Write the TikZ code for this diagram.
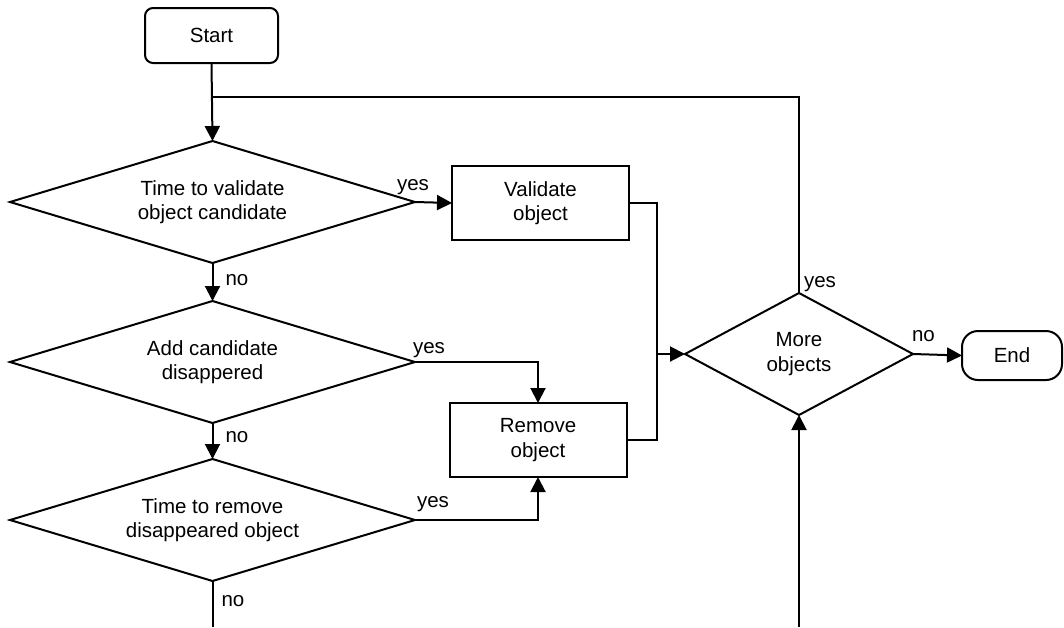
\documentclass[tikz,border=0pt]{standalone}
\usepackage{fontspec}
\setmainfont{Liberation Sans}
\usetikzlibrary{shapes.geometric,arrows.meta}
\begin{document}
\begin{tikzpicture}[x=1pt,y=-1pt,
  every node/.style={font=\fontsize{20.5}{24.5}\selectfont, inner sep=0pt, outer sep=0pt},
  box/.style={draw, line width=2pt, rectangle, minimum width=177pt, minimum height=74pt, align=center},
  term/.style={draw, line width=2pt, rectangle, align=center},
  decision/.style={draw, line width=2pt, diamond, aspect=3.3, align=center},
  conn/.style={line width=2pt},
  arr/.style={line width=2pt, -{Triangle[length=15pt,width=15pt]}},
  lbl/.style={anchor=base west}
]
\useasboundingbox (0,0) rectangle (1064,627);

\node[term, rounded corners=8pt, minimum width=133pt, minimum height=55pt] (start) at (211.5,35.5) {Start};
\node[decision, minimum width=405pt, minimum height=122pt] (d1) at (212.5,202) {Time to validate\\object candidate};
\node[decision, minimum width=405pt, minimum height=122pt] (d2) at (212.5,362) {Add candidate\\disappered};
\node[decision, minimum width=405pt, minimum height=122pt] (d3) at (212.5,520) {Time to remove\\disappeared object};
\node[box] (val) at (540.5,203) {Validate\\object};
\node[box] (rem) at (538,440) {Remove\\object};
\node[decision, minimum width=228pt, minimum height=122pt] (more) at (799,354) {More\\objects};
\node[term, rounded corners=16pt, minimum width=100pt, minimum height=49pt] (end) at (1012,355.5) {End};

\coordinate (J) at (212.5,97);
\coordinate (M) at (657,354);
\coordinate (B3) at (212.5,627);
\coordinate (B) at (799,627);

\draw[arr] (start.south) -- (d1.north);
\draw[conn] (more.north) |- (J);
\draw[arr] (d1.east) -- (val.west);
\draw[conn] (val.east) -| (M);
\draw[conn] (rem.east) -| (M);
\draw[arr] (M) -- (more.west);
\draw[arr] (d1.south) -- (d2.north);
\draw[arr] (d2.east) -| (rem.north);
\draw[arr] (d2.south) -- (d3.north);
\draw[arr] (d3.east) -| (rem.south);
\draw[conn] (d3.south) -- (B3);
\draw[arr] (B) -- (more.south);
\draw[arr] (more.east) -- (end.west);

\node[lbl] (l1) at ([shift={(-18,-12)}]d1.east) {yes};
\node[lbl] (l2) at ([shift={(13,22)}]d1.south) {no};
\node[lbl] (l3) at ([shift={(-2,-9)}]d2.east) {yes};
\node[lbl] (l4) at ([shift={(13,19)}]d2.south) {no};
\node[lbl] (l5) at ([shift={(2,-13)}]d3.east) {yes};
\node[lbl] (l6) at ([shift={(9,25)}]d3.south) {no};
\node[lbl] (l7) at ([shift={(5,-6)}]more.north) {yes};
\node[lbl] (l8) at ([shift={(-1,-13)}]more.east) {no};
\end{tikzpicture}
\end{document}
